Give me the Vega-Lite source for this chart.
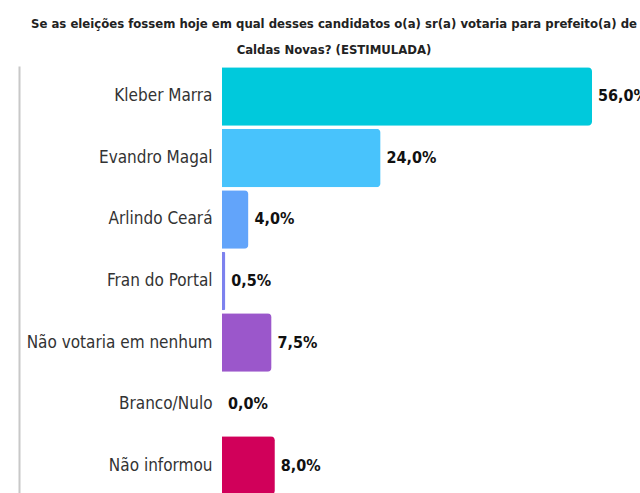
{
  "$schema": "https://vega.github.io/schema/vega-lite/v6.json",
  "autosize": "none",
  "width": 370,
  "height": 430,
  "padding": {"left": 222, "top": 66, "right": 48, "bottom": 0},
  "background": "white",
  "config": {"view": {"stroke": null}, "font": "DejaVu Sans Condensed, Open Sans, sans-serif"},
  "title": {
    "text": ["Se as eleições fossem hoje em qual desses candidatos o(a) sr(a) votaria para prefeito(a) de", "Caldas Novas? (ESTIMULADA)"],
    "font": "DejaVu Sans Condensed, Open Sans, sans-serif",
    "fontSize": 13,
    "fontWeight": "bold",
    "color": "#222222",
    "anchor": "middle",
    "dx": -73,
    "offset": 9,
    "lineHeight": 26
  },
  "data": {
    "values": [
      {"nome": "Kleber Marra", "valor": 56.0, "rotulo": "56,0%"},
      {"nome": "Evandro Magal", "valor": 24.0, "rotulo": "24,0%"},
      {"nome": "Arlindo Ceará", "valor": 4.0, "rotulo": "4,0%"},
      {"nome": "Fran do Portal", "valor": 0.5, "rotulo": "0,5%"},
      {"nome": "Não votaria em nenhum", "valor": 7.5, "rotulo": "7,5%"},
      {"nome": "Branco/Nulo", "valor": 0.0, "rotulo": "0,0%"},
      {"nome": "Não informou", "valor": 8.0, "rotulo": "8,0%"}
    ]
  },
  "encoding": {
    "y": {"field": "nome", "type": "nominal", "sort": null,
      "scale": {"paddingInner": 0.05, "paddingOuter": 0.02}},
    "x": {"field": "valor", "type": "quantitative", "scale": {"domain": [0, 56]}, "axis": null}
  },
  "layer": [
    {
      "mark": {"type": "bar", "cornerRadiusEnd": 4},
      "encoding": {
        "color": {"field": "nome", "type": "nominal", "legend": null, "sort": null,
          "scale": {
            "domain": ["Kleber Marra", "Evandro Magal", "Arlindo Ceará", "Fran do Portal", "Não votaria em nenhum", "Branco/Nulo", "Não informou"],
            "range": ["#00C9DC", "#48C3FC", "#62A4FA", "#7D82EE", "#9B57CB", "#888888", "#D1005A"]
          }
        },
        "y": {"field": "nome", "type": "nominal", "sort": null,
          "axis": {"title": null, "domain": false, "ticks": false, "labelFontSize": 17, "labelColor": "#333333", "labelPadding": 10, "labelLimit": 300, "labelFont": "DejaVu Sans Condensed, Open Sans, sans-serif"}}
      }
    },
    {
      "mark": {"type": "text", "align": "left", "dx": 6, "fontSize": 16, "fontWeight": "bold", "color": "#111111", "clip": false, "font": "DejaVu Sans Condensed, Open Sans, sans-serif"},
      "encoding": {
        "text": {"field": "rotulo"},
        "y": {"field": "nome", "type": "nominal", "sort": null,
          "axis": {"orient": "left", "offset": 203, "labels": false, "ticks": false, "title": null, "domain": true, "domainColor": "#c8c8c8", "domainWidth": 2}}
      }
    }
  ],
  "resolve": {"axis": {"y": "independent"}}
}
